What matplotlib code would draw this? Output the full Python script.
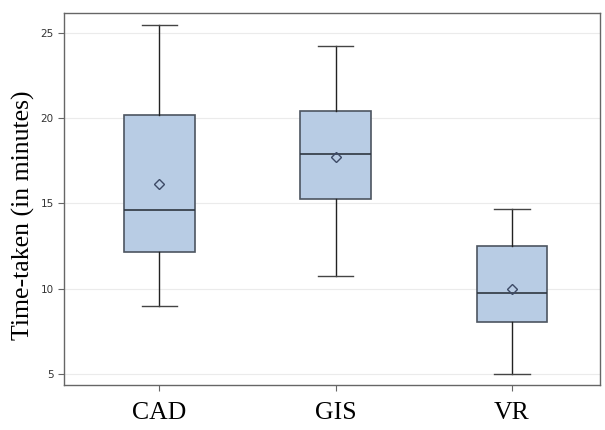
import matplotlib
matplotlib.use("Agg")
import matplotlib.pyplot as plt

categories = ["CAD", "GIS", "VR"]
whislo = [9.0, 10.75, 5.0]
q1 = [12.15, 15.25, 8.05]
med = [14.6, 17.9, 9.75]
q3 = [20.18, 20.43, 12.5]
whishi = [25.47, 24.24, 14.67]
means = [16.15, 17.73, 10.0]
yticks = [5, 10, 15, 20, 25]

fig = plt.figure(figsize=(6.05, 4.3), dpi=100)
ax = fig.add_axes([0.106, 0.105, 0.886, 0.865])

stats = []
for i, c in enumerate(categories):
    stats.append(dict(label=c, whislo=whislo[i], q1=q1[i], med=med[i],
                      q3=q3[i], whishi=whishi[i], mean=means[i], fliers=[]))

ax.bxp(stats, positions=[1, 2, 3], widths=0.4, patch_artist=True, showmeans=True,
       boxprops=dict(facecolor="#b8cce4", edgecolor="#4d5560", linewidth=1.2),
       medianprops=dict(color="#2f3640", linewidth=1.2),
       whiskerprops=dict(color="#222222", linewidth=1.0),
       capprops=dict(color="#444444", linewidth=1.0),
       capwidths=0.2,
       meanprops=dict(marker="D", markerfacecolor="none", markeredgecolor="#3d4a66",
                      markersize=5, markeredgewidth=1.0))

ax.set_xlim(0.46, 3.5)
ax.set_ylim(4.35, 26.17)
ax.set_yticks(yticks)
ax.set_yticklabels([str(v) for v in yticks], fontsize=7.5, color="#333333")
ax.set_xticklabels(categories, fontsize=18.5, family="Liberation Serif")
ax.yaxis.grid(True, color="#ebebeb", linewidth=0.8)
ax.set_axisbelow(True)
ax.set_ylabel("Time-taken (in minutes)", fontsize=18.5, family="Liberation Serif")
ax.yaxis.set_label_coords(-0.054, 0.455)
for s in ax.spines.values():
    s.set_color("#666666")
    s.set_linewidth(1.0)
ax.tick_params(axis="y", color="#666666", length=4)
ax.tick_params(axis="x", color="#666666", length=4, pad=8)
fig.savefig("out.png", dpi=100)
